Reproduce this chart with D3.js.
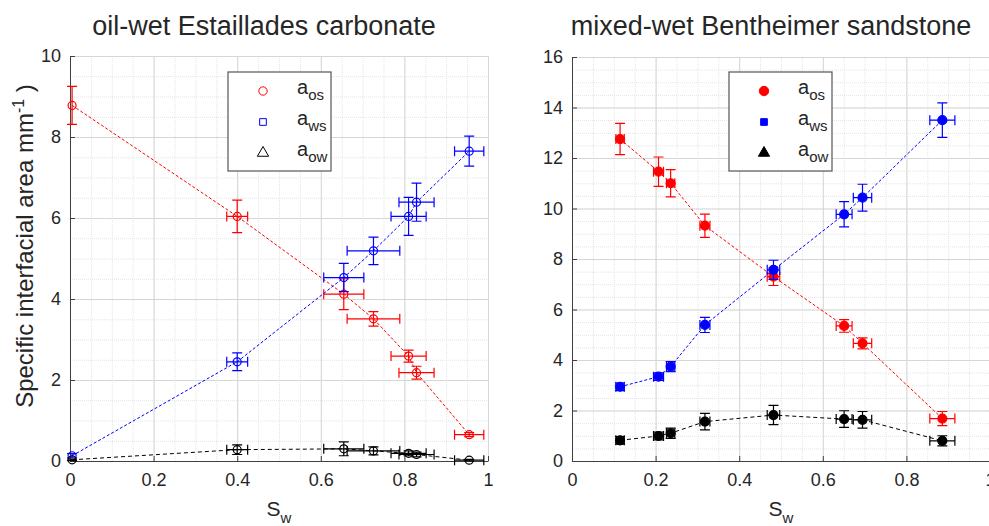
<!DOCTYPE html>
<html lang="en">
<head>
    <meta charset="UTF-8">
    <script src="https://d3js.org/d3.v7.min.js"></script>
    <title>Interfacial area</title>
    <style>
        body { margin: 0; background: #fff; }
        text { font-family: "Liberation Sans", Arial, sans-serif; fill: #262626; }
    </style>
</head>
<body>
<script>

    //data
    var carbSw     = [0.005, 0.40, 0.655, 0.726, 0.81, 0.829, 0.955];
    var carbSwErr  = [0, 0.025, 0.048, 0.063, 0.042, 0.042, 0.035];
    var carbAos    = [8.78, 6.04, 4.12, 3.51, 2.59, 2.18, 0.65];
    var carbAosErr = [0.47, 0.40, 0.38, 0.18, 0.15, 0.16, 0.05];
    var carbAws    = [0.13, 2.45, 4.53, 5.19, 6.04, 6.39, 7.65];
    var carbAwsErr = [0.05, 0.22, 0.35, 0.34, 0.47, 0.47, 0.37];
    var carbAow    = [0.03, 0.28, 0.30, 0.25, 0.19, 0.16, 0.02];
    var carbAowErr = [0.02, 0.12, 0.17, 0.10, 0.06, 0.06, 0.02];

    var bentSw     = [0.115, 0.207, 0.236, 0.318, 0.482, 0.651, 0.695, 0.886];
    var bentSwErr  = [0.01, 0.012, 0.01, 0.012, 0.015, 0.019, 0.022, 0.03];
    var bentAos    = [12.75, 11.46, 11.0, 9.32, 7.3, 5.35, 4.66, 1.68];
    var bentAosErr = [0.62, 0.58, 0.54, 0.46, 0.35, 0.25, 0.22, 0.28];
    var bentAws    = [2.94, 3.34, 3.74, 5.39, 7.57, 9.77, 10.43, 13.5];
    var bentAwsErr = [0.15, 0.15, 0.2, 0.3, 0.38, 0.5, 0.53, 0.68];
    var bentAow    = [0.82, 0.99, 1.1, 1.56, 1.82, 1.66, 1.63, 0.8];
    var bentAowErr = [0.15, 0.15, 0.2, 0.33, 0.38, 0.33, 0.33, 0.2];

    var xTicks = [0, 0.2, 0.4, 0.6, 0.8, 1];
    var carbYTicks = [0, 2, 4, 6, 8, 10];
    var bentYTicks = [0, 2, 4, 6, 8, 10, 12, 14, 16];
    var seriesNames = ["os", "ws", "ow"];
    var seriesColors = ["#ff0000", "#0000ff", "#000000"];

    var width = 989, height = 526;

    var svg = d3.select("body")
        .append("svg")
        .attr("width", width)
        .attr("height", height);

    function pack(sw, swErr, vals, errs) {
        return sw.map(function(d, i) {
            return {x: d, xe: swErr[i], y: vals[i], ye: errs[i]};
        });
    }

    //one panel: grid, axes, error bars, dashed lines, markers, legend
    function drawPanel(cfg) {
        var x = d3.scaleLinear().domain([0, 1]).range([cfg.left, cfg.right]);
        var y = d3.scaleLinear().domain([0, cfg.yMax]).range([cfg.bottom, cfg.top]);
        var g = svg.append("g");

        //minor grid
        g.append("g")
            .attr("transform", "translate(0," + cfg.bottom + ")")
            .call(d3.axisBottom(x).tickValues(d3.range(0, 1.0001, 0.05)).tickSize(-(cfg.bottom - cfg.top)).tickFormat(""))
            .call(function(s) {
                s.select(".domain").remove();
                s.selectAll("line").attr("stroke", "#e4e4e4").attr("stroke-dasharray", "1,1");
            });
        g.append("g")
            .attr("transform", "translate(" + cfg.left + ",0)")
            .call(d3.axisLeft(y).tickValues(d3.range(0, cfg.yMax + 0.001, 0.5)).tickSize(-(cfg.right - cfg.left)).tickFormat(""))
            .call(function(s) {
                s.select(".domain").remove();
                s.selectAll("line").attr("stroke", "#e4e4e4").attr("stroke-dasharray", "1,1");
            });

        //major grid
        g.append("g")
            .attr("transform", "translate(0," + cfg.bottom + ")")
            .call(d3.axisBottom(x).tickValues(xTicks).tickSize(-(cfg.bottom - cfg.top)).tickFormat(""))
            .call(function(s) {
                s.select(".domain").remove();
                s.selectAll("line").attr("stroke", "#d6d6d6");
            });
        g.append("g")
            .attr("transform", "translate(" + cfg.left + ",0)")
            .call(d3.axisLeft(y).tickValues(cfg.yTicks).tickSize(-(cfg.right - cfg.left)).tickFormat(""))
            .call(function(s) {
                s.select(".domain").remove();
                s.selectAll("line").attr("stroke", "#d6d6d6");
            });

        //axes with inward ticks
        var xAxis = g.append("g")
            .attr("transform", "translate(0," + cfg.bottom + ")")
            .call(d3.axisBottom(x).tickValues(xTicks).tickSizeInner(-5).tickSizeOuter(0).tickPadding(12).tickFormat(d3.format("")));
        var yAxis = g.append("g")
            .attr("transform", "translate(" + cfg.left + ",0)")
            .call(d3.axisLeft(y).tickValues(cfg.yTicks).tickSizeInner(-5).tickSizeOuter(0).tickPadding(9));
        [xAxis, yAxis].forEach(function(a) {
            a.select(".domain").attr("stroke", "#404040");
            a.selectAll(".tick line").attr("stroke", "#404040");
            a.selectAll(".tick text").attr("font-size", 18).attr("fill", "#262626")
                .style("font-family", "'Liberation Sans', Arial, sans-serif");
        });

        var line = d3.line().x(function(d) { return x(d.x); }).y(function(d) { return y(d.y); });

        cfg.series.forEach(function(data, k) {
            var col = seriesColors[k];
            var sg = g.append("g");

            sg.append("path")
                .datum(data)
                .attr("d", line)
                .attr("fill", "none")
                .attr("stroke", col)
                .attr("stroke-width", 1)
                .attr("stroke-dasharray", k == 2 ? "4,3" : "3,2");

            var eb = sg.selectAll(".eb").data(data).enter().append("g")
                .attr("stroke", col).attr("stroke-width", 1.2).attr("fill", "none");
            //vertical error bars
            eb.append("path").attr("d", function(d) {
                var cx = x(d.x), y0 = y(d.y - d.ye), y1 = y(d.y + d.ye);
                return "M" + cx + "," + y0 + "V" + y1 +
                    "M" + (cx - 5) + "," + y0 + "H" + (cx + 5) +
                    "M" + (cx - 5) + "," + y1 + "H" + (cx + 5);
            });
            //horizontal error bars
            eb.filter(function(d) { return d.xe > 0; }).append("path").attr("d", function(d) {
                var cy = y(d.y), x0 = x(d.x - d.xe), x1 = x(d.x + d.xe);
                return "M" + x0 + "," + cy + "H" + x1 +
                    "M" + x0 + "," + (cy - 5) + "V" + (cy + 5) +
                    "M" + x1 + "," + (cy - 5) + "V" + (cy + 5);
            });

            sg.selectAll(".pt").data(data).enter().append("circle")
                .attr("cx", function(d) { return x(d.x); })
                .attr("cy", function(d) { return y(d.y); })
                .attr("r", cfg.filled ? 4.5 : 4)
                .attr("fill", cfg.filled ? col : "none")
                .attr("stroke", col)
                .attr("stroke-width", 1.2);
        });

        //title
        svg.append("text")
            .attr("x", cfg.titleX)
            .attr("y", 35)
            .attr("text-anchor", "middle")
            .attr("font-size", 27)
            .attr("fill", "#000")
            .text(cfg.title);

        //x label
        var xl = svg.append("text")
            .attr("x", (cfg.left + cfg.right) / 2)
            .attr("y", 516)
            .attr("font-size", 21)
            .attr("text-anchor", "middle");
        xl.append("tspan").text("S");
        xl.append("tspan").attr("font-size", 15).attr("dy", 7).text("w");

        //legend
        var lg = svg.append("g").attr("transform", "translate(" + cfg.legendX + ",72)");
        lg.append("rect")
            .attr("width", 103).attr("height", 99)
            .attr("fill", "#fff").attr("stroke", "#555").attr("stroke-width", 1.2);
        var shapes = [d3.symbolCircle, d3.symbolSquare, d3.symbolTriangle];
        var sizes = [cfg.filled ? 70 : 55, 45, 55];
        seriesNames.forEach(function(name, k) {
            var ry = 19 + k * 31;
            lg.append("path")
                .attr("transform", "translate(35," + ry + ")")
                .attr("d", d3.symbol().type(shapes[k]).size(sizes[k]))
                .attr("fill", cfg.filled ? seriesColors[k] : "none")
                .attr("stroke", seriesColors[k])
                .attr("stroke-width", 1);
            var t = lg.append("text")
                .attr("x", 69).attr("y", ry + 3)
                .attr("font-size", 20);
            t.append("tspan").text("a");
            t.append("tspan").attr("font-size", 15).attr("dy", 6).text(name);
        });
    }

    drawPanel({
        title: "oil-wet Estaillades carbonate", titleX: 264,
        left: 70, right: 488, top: 56, bottom: 461,
        yMax: 10, yTicks: carbYTicks, filled: false, legendX: 228,
        series: [pack(carbSw, carbSwErr, carbAos, carbAosErr),
                 pack(carbSw, carbSwErr, carbAws, carbAwsErr),
                 pack(carbSw, carbSwErr, carbAow, carbAowErr)]
    });

    drawPanel({
        title: "mixed-wet Bentheimer sandstone", titleX: 771,
        left: 572, right: 990, top: 57, bottom: 461,
        yMax: 16, yTicks: bentYTicks, filled: true, legendX: 729,
        series: [pack(bentSw, bentSwErr, bentAos, bentAosErr),
                 pack(bentSw, bentSwErr, bentAws, bentAwsErr),
                 pack(bentSw, bentSwErr, bentAow, bentAowErr)]
    });

    //y label on the left panel
    var yl = svg.append("text")
        .attr("transform", "translate(33,246) rotate(-90)")
        .attr("text-anchor", "middle")
        .attr("font-size", 24);
    yl.append("tspan").text("Specific interfacial area mm");
    yl.append("tspan").attr("font-size", 16).attr("dy", -9).text("-1");
    yl.append("tspan").attr("dy", 9).text(" )");

</script>
</body>
</html>
